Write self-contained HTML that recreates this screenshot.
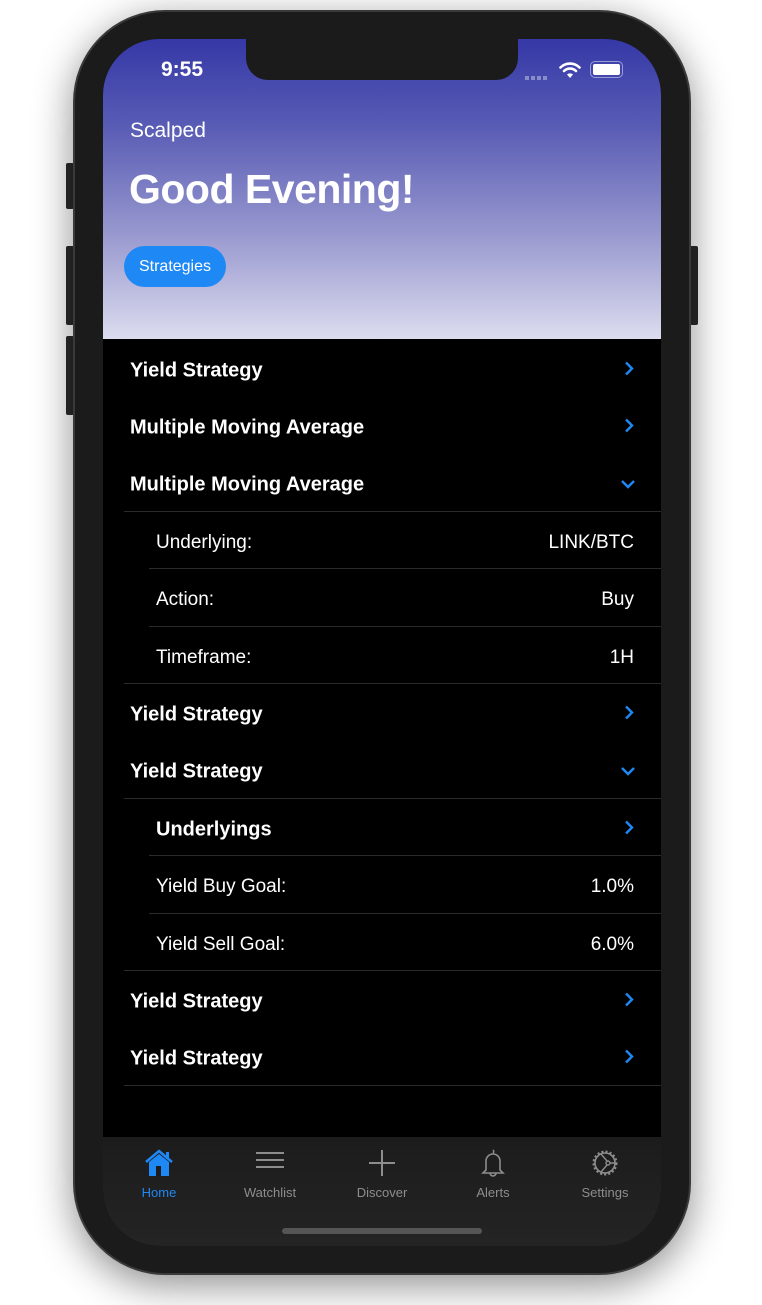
<!DOCTYPE html>
<html><head><meta charset="utf-8"><style>
*{margin:0;padding:0;box-sizing:border-box}
body{width:762px;height:1305px;background:#fff;position:relative;overflow:hidden;font-family:"Liberation Sans",sans-serif}
.abs{position:absolute}
.phone{left:73px;top:10px;width:618px;height:1265px;border-radius:92px;background:#1b1b1b;border:2px solid #3a3a3a;box-shadow:0 10px 40px rgba(0,0,0,.45)}
.btn{background:#2a2a2a;border-radius:2px;width:8px}
.screen{left:103px;top:39px;width:558px;height:1207px;border-radius:56px;overflow:hidden;background:#000}
.hdr{left:0;top:0;width:558px;height:300px;background:linear-gradient(#3538a6,#5a5db5 30%,#9898cf 65%,#dcdcef)}
.notch{left:143px;top:0;width:272px;height:41px;background:#1b1b1b;border-radius:0 0 22px 22px}
.row{position:absolute;left:0;width:558px;height:57px;color:#fff}
.row .t{position:absolute;top:50%;transform:translateY(-50%);font-size:20px}
.b{font-weight:bold;left:27px}
.n{left:53px;font-size:19px!important}
.v{right:27px;font-size:19px!important}
.sep{position:absolute;height:1px;background:#2b2b2b;right:0}
.chev{position:absolute;right:27px;top:50%;transform:translateY(-50%)}
.tab{position:absolute;top:0;width:112px;text-align:center;font-size:13px;color:#8d8d8d}
.tab svg{display:block;margin:11px auto 7px}
</style></head><body>
<div class="abs btn" style="left:66px;top:163px;height:46px"></div>
<div class="abs btn" style="left:66px;top:246px;height:79px"></div>
<div class="abs btn" style="left:66px;top:336px;height:79px"></div>
<div class="abs btn" style="left:690px;top:246px;height:79px"></div>
<div class="abs phone"></div>
<div class="abs screen">
 <div class="abs hdr">
  <div class="abs" style="left:58px;top:19px;color:#fff;font-size:21px;font-weight:bold">9:55</div>
  <div class="abs" style="left:422px;top:37px;width:24px;height:4px;background:repeating-linear-gradient(90deg,#8a8cc8 0 4px,transparent 4px 6px)"></div>
  <svg class="abs" style="left:456px;top:22px" width="22" height="18" viewBox="0 0 22 18"><path d="M11 17l3-3.5a4.5 4.5 0 0 0-6 0z" fill="#fff"/><path d="M5 10a8.5 8.5 0 0 1 12 0M1.5 6.5a13.5 13.5 0 0 1 19 0" stroke="#fff" stroke-width="2.6" fill="none" stroke-linecap="round"/></svg>
  <div class="abs" style="left:487px;top:22px;width:33px;height:17px;border:1.5px solid #9a9cd6;border-radius:5px;padding:2px"><div style="width:100%;height:100%;background:#fff;border-radius:2px"></div></div>
  <div class="abs" style="left:27px;top:80px;color:#fff;font-size:21px">Scalped</div>
  <div class="abs" style="left:26px;top:127px;color:#fff;font-size:41px;font-weight:bold;letter-spacing:-0.5px">Good Evening!</div>
  <div class="abs" style="left:21px;top:207px;width:102px;height:41px;border-radius:21px;background:#1e88f5;color:#fff;font-size:16px;line-height:41px;text-align:center">Strategies</div>
 </div>
 <div class="abs notch"></div>
 <div class="abs" id="list" style="left:0;top:300px;width:558px;height:798px"></div>
 <div class="abs" style="left:0;top:1098px;width:558px;height:109px;background:linear-gradient(#1c1c1c,#242424)">
  <div class="tab" style="left:0;color:#1e88f5"><svg width="32" height="30" viewBox="0 0 32 30"><path d="M3 14L16 3l13 11" stroke="#1e88f5" stroke-width="2.5" fill="none"/><path d="M6 14L16 6l10 8v14H6z" fill="#1e88f5"/><rect x="13" y="18" width="5" height="10" fill="#1c1c1c"/><rect x="23" y="4" width="3" height="7" fill="#1e88f5"/></svg>Home</div>
  <div class="tab" style="left:111px"><svg width="32" height="30" viewBox="0 0 32 30"><path d="M2 5h28M2 12h28M2 19h28" stroke="#8d8d8d" stroke-width="2"/></svg>Watchlist</div>
  <div class="tab" style="left:223px"><svg width="32" height="30" viewBox="0 0 32 30"><path d="M16 2v26M3 15h26" stroke="#8d8d8d" stroke-width="2"/></svg>Discover</div>
  <div class="tab" style="left:334px"><svg width="32" height="30" viewBox="0 0 32 30"><path d="M16 2a2 2 0 0 1 0 3M9 22V13a7 7 0 0 1 14 0v9l3 3H6z M13 25a3 3 0 0 0 6 0" stroke="#8d8d8d" stroke-width="1.6" fill="none"/></svg>Alerts</div>
  <div class="tab" style="left:446px"><svg width="32" height="30" viewBox="0 0 32 30"><circle cx="16" cy="15" r="11" stroke="#8d8d8d" stroke-width="3" stroke-dasharray="2 2" fill="none"/><circle cx="16" cy="15" r="10" stroke="#8d8d8d" stroke-width="1.6" fill="none"/><circle cx="19" cy="15" r="2" stroke="#8d8d8d" stroke-width="1.4" fill="none"/><path d="M21 15h5M18 13l-6-7M18 17l-6 7" stroke="#8d8d8d" stroke-width="1.4"/></svg>Settings</div>
  <div class="abs" style="left:179px;top:91px;width:200px;height:6px;border-radius:3px;background:#555"></div>
 </div>
</div>
<script>
const rows=[
 ['b','Yield Strategy','right',null],
 ['b','Multiple Moving Average','right',null],
 ['b','Multiple Moving Average','down',21],
 ['n','Underlying:','LINK/BTC',46],
 ['n','Action:','Buy',46],
 ['n','Timeframe:','1H',21],
 ['b','Yield Strategy','right',null],
 ['b','Yield Strategy','down',21],
 ['nb','Underlyings','right',46],
 ['n','Yield Buy Goal:','1.0%',46],
 ['n','Yield Sell Goal:','6.0%',21],
 ['b','Yield Strategy','right',null],
 ['b','Yield Strategy','right',21]
];
const list=document.getElementById('list');
const chevR='<svg width="10" height="16" viewBox="0 0 10 16"><path d="M2 2l6 6-6 6" stroke="#1e88f5" stroke-width="2.4" fill="none"/></svg>';
const chevD='<svg width="16" height="10" viewBox="0 0 16 10"><path d="M2 2l6 6 6-6" stroke="#1e88f5" stroke-width="2.4" fill="none"/></svg>';
rows.forEach((r,i)=>{
 const d=document.createElement('div');
 d.className='row';d.style.top=(i*57.4+1)+'px';
 
 
 let h='';
 if(r[0]==='b')h+='<div class="t b" style="margin-top:2px">'+r[1]+'</div>';
 else if(r[0]==='nb')h+='<div class="t n" style="font-weight:bold;font-size:20px!important;margin-top:2px">'+r[1]+'</div>';
 else h+='<div class="t n" style="margin-top:2px">'+r[1]+'</div>';
 if(r[2]==='right')h+='<div class="chev" style="margin-top:2px">'+chevR+'</div>';
 else if(r[2]==='down')h+='<div class="chev" style="right:25px;margin-top:2px">'+chevD+'</div>';
 else h+='<div class="t v" style="margin-top:2px">'+r[2]+'</div>';
 if(r[3]!==null)h+='<div class="sep" style="left:'+r[3]+'px;bottom:0"></div>';
 d.innerHTML=h;list.appendChild(d);
});
</script>
</body></html>
